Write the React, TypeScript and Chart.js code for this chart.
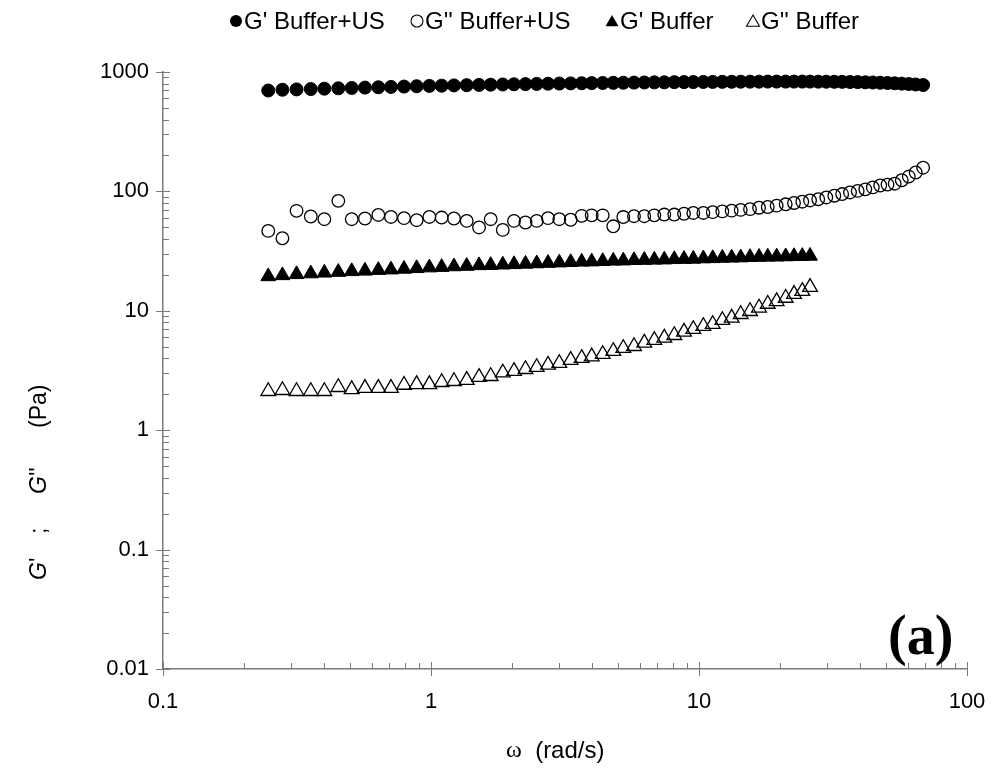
import React, { useEffect, useRef } from 'react';
import { Chart, registerables } from 'chart.js';

Chart.register(...registerables);

// ---------- data ----------
const omega = [
  0.247, 0.279, 0.315, 0.356, 0.4, 0.451, 0.506, 0.567, 0.636, 0.709,
  0.793, 0.884, 0.986, 1.096, 1.218, 1.359, 1.511, 1.67, 1.853, 2.04,
  2.252, 2.48, 2.733, 3.011, 3.321, 3.65, 3.978, 4.372, 4.788, 5.218,
  5.721, 6.251, 6.812, 7.421, 8.087, 8.79, 9.522, 10.38, 11.25, 12.22,
  13.24, 14.31, 15.5, 16.75, 18.05, 19.49, 21.06, 22.62, 24.29, 25.96,
  27.85, 29.85, 31.98, 34.21, 36.6, 39.09, 41.73, 44.51, 47.45, 50.51,
  53.72, 57.1, 60.64, 64.35, 68.6,
];

const gpBufferUS = [
  700, 710, 715, 720, 725, 730, 735, 740, 745, 750,
  755, 760, 765, 768, 772, 776, 780, 783, 786, 789,
  792, 795, 798, 800, 803, 805, 807, 809, 811, 813,
  815, 817, 819, 820, 822, 823, 824, 825, 826, 827,
  828, 829, 830, 830, 831, 831, 831, 831, 831, 831,
  830, 829, 828, 827, 825, 823, 820, 817, 813, 809,
  804, 799, 793, 786, 778,
];

const gppBufferUS = [
  46.7, 40.5, 68.7, 61.6, 58.5, 83.3, 58.5, 59.3, 63.5, 61.1,
  59.7, 57.4, 61.1, 60.4, 59.3, 56.6, 49.9, 58.5, 47.6, 56.6,
  54.9, 56.6, 59.7, 58.5, 57.9, 62.4, 63, 63, 51, 61,
  62, 62, 63, 64, 64, 65, 66, 66, 67, 68,
  69, 70, 71, 73, 74, 76, 78, 80, 82, 84,
  86, 89, 92, 95, 98, 101, 104, 108, 112, 114,
  116, 124, 133, 144, 158,
];

const gpBuffer = [
  19.4, 19.8, 20.2, 20.5, 20.8, 21.1, 21.4, 21.6, 21.9, 22.1,
  22.4, 22.7, 23.0, 23.2, 23.5, 23.7, 24.0, 24.1, 24.3, 24.5,
  24.7, 24.9, 25.1, 25.3, 25.5, 25.7, 25.8, 26.0, 26.2, 26.3,
  26.5, 26.6, 26.7, 26.8, 27.0, 27.1, 27.2, 27.4, 27.5, 27.7,
  27.8, 27.9, 28.1, 28.2, 28.3, 28.4, 28.5, 28.6, 28.7, 28.8,
];

const gppBuffer = [
  2.12, 2.16, 2.12, 2.12, 2.12, 2.29, 2.2, 2.25, 2.25, 2.25,
  2.39, 2.42, 2.42, 2.52, 2.57, 2.63, 2.78, 2.83, 3.03, 3.12,
  3.24, 3.37, 3.52, 3.64, 3.86, 4.01, 4.13, 4.33, 4.59, 4.86,
  5.05, 5.39, 5.67, 5.93, 6.24, 6.66, 7.01, 7.43, 7.72, 8.34,
  8.72, 9.36, 9.91, 10.6, 11.4, 12.0, 12.8, 13.8, 14.6, 15.8,
];

const seriesLabels = ["G' Buffer+US", "G'' Buffer+US", "G' Buffer", "G'' Buffer"];
const xMajorValues = [0.1, 1, 10, 100];
const xTickLabels = ['0.1', '1', '10', '100'];
const yMajorValues = [0.01, 0.1, 1, 10, 100, 1000];
const yTickLabels = ['0.01', '0.1', '1', '10', '100', '1000'];

// ---------- styling ----------
const SANS = '"Liberation Sans", Arial, sans-serif';
const SERIF = '"Liberation Serif", "Times New Roman", serif';
const AXIS_COLOR = '#7a7a7a';

const W = 992;
const H = 778;

function majorIndex(list: number[], v: number) {
  return list.findIndex((m) => Math.abs(m - v) / m < 1e-6);
}

function logTickList(min: number, max: number) {
  const out: { value: number }[] = [];
  const e0 = Math.round(Math.log10(min));
  const e1 = Math.round(Math.log10(max));
  for (let e = e0; e < e1; e++) {
    for (let m = 1; m < 10; m++) out.push({ value: m * Math.pow(10, e) });
  }
  out.push({ value: max });
  return out;
}

function drawMarker(ctx: CanvasRenderingContext2D, style: string, filled: boolean, x: number, y: number, r: number) {
  ctx.beginPath();
  if (style === 'circle') {
    ctx.arc(x, y, r, 0, Math.PI * 2);
  } else {
    ctx.moveTo(x, y - r);
    ctx.lineTo(x + r * 0.866, y + r * 0.5);
    ctx.lineTo(x - r * 0.866, y + r * 0.5);
    ctx.closePath();
  }
  if (filled) {
    ctx.fillStyle = '#000';
    ctx.fill();
  } else {
    ctx.lineWidth = 1.1;
    ctx.strokeStyle = '#000';
    ctx.stroke();
  }
}

const decorPlugin = {
  id: 'decor',
  afterDraw(chart: any) {
    const { ctx, chartArea, scales } = chart;
    const xs = scales.x;
    const ys = scales.y;
    ctx.save();
    // tick marks
    ctx.strokeStyle = AXIS_COLOR;
    ctx.lineWidth = 1;
    xs.ticks.forEach((t: any) => {
      const px = Math.round(xs.getPixelForValue(t.value)) + 0.5;
      const major = majorIndex(xMajorValues, t.value) >= 0;
      ctx.beginPath();
      ctx.moveTo(px, chartArea.bottom - (major ? 7 : 6));
      ctx.lineTo(px, chartArea.bottom + (major ? 7 : 0));
      ctx.stroke();
    });
    ys.ticks.forEach((t: any) => {
      const py = Math.round(ys.getPixelForValue(t.value)) + 0.5;
      const major = majorIndex(yMajorValues, t.value) >= 0;
      ctx.beginPath();
      ctx.moveTo(chartArea.left - (major ? 7 : 0), py);
      ctx.lineTo(chartArea.left + (major ? 7 : 6), py);
      ctx.stroke();
    });

    // legend
    const legendX = [236, 417, 612, 753];
    const legendY = 21;
    ctx.font = `24px ${SANS}`;
    ctx.textBaseline = 'middle';
    ctx.textAlign = 'left';
    chart.data.datasets.forEach((ds: any, i: number) => {
      const isCircle = ds.pointStyle === 'circle';
      const filled = ds.pointBackgroundColor !== 'rgba(0,0,0,0)';
      drawMarker(ctx, ds.pointStyle, filled, legendX[i], legendY + (isCircle ? 0 : 1.5), isCircle ? 6 : 7.5);
      ctx.fillStyle = '#000';
      ctx.fillText(ds.label, legendX[i] + 8, legendY + 1);
    });

    // y title (rotated, with italic G); positions along the rotated baseline
    ctx.save();
    ctx.translate(40, 0);
    ctx.rotate(-Math.PI / 2);
    ctx.textBaseline = 'middle';
    ctx.textAlign = 'left';
    ctx.fillStyle = '#000';
    const drawRun = (runs: [string, boolean][], startY: number) => {
      let cx = -startY;
      runs.forEach(([txt, it]) => {
        ctx.font = `${it ? 'italic ' : ''}23px ${SANS}`;
        ctx.fillText(txt, cx, 0);
        cx += ctx.measureText(txt).width;
      });
    };
    drawRun([['G', true], ["'", false]], 580);
    drawRun([[';', false]], 534);
    drawRun([['G', true], ["''", false]], 494);
    drawRun([['(Pa)', false]], 428);
    ctx.restore();

    // x title
    ctx.textBaseline = 'middle';
    ctx.textAlign = 'left';
    ctx.fillStyle = '#000';
    ctx.font = `24px ${SERIF}`;
    const om = '\u03C9';
    const x0 = 506;
    ctx.fillText(om, x0, 751);
    const omW = ctx.measureText(om).width;
    ctx.font = `24px ${SANS}`;
    ctx.fillText('  (rad/s)', x0 + omW, 751);

    // panel tag
    ctx.font = `bold 56px ${SERIF}`;
    ctx.textBaseline = 'alphabetic';
    ctx.fillText('(a)', 888, 654);

    ctx.restore();
  },
};

export default function App() {
  const canvasRef = useRef<HTMLCanvasElement | null>(null);

  useEffect(() => {
    document.body.style.margin = '0';
    const canvas = canvasRef.current;
    if (!canvas) return;

    const mk = (ys: number[]) => ys.map((y, i) => ({ x: omega[i], y }));

    const chart = new Chart(canvas, {
      type: 'scatter',
      data: {
        datasets: [
          {
            label: seriesLabels[0],
            data: mk(gpBufferUS),
            pointStyle: 'circle',
            pointRadius: 6.5,
            pointBackgroundColor: '#000',
            pointBorderColor: '#000',
            pointBorderWidth: 1,
          },
          {
            label: seriesLabels[1],
            data: mk(gppBufferUS),
            pointStyle: 'circle',
            pointRadius: 6.3,
            pointBackgroundColor: 'rgba(0,0,0,0)',
            pointBorderColor: '#000',
            pointBorderWidth: 1.3,
          },
          {
            label: seriesLabels[2],
            data: mk(gpBuffer),
            pointStyle: 'triangle',
            pointRadius: 8.5,
            pointBackgroundColor: '#000',
            pointBorderColor: '#000',
            pointBorderWidth: 1,
          },
          {
            label: seriesLabels[3],
            data: mk(gppBuffer),
            pointStyle: 'triangle',
            pointRadius: 8.5,
            pointBackgroundColor: 'rgba(0,0,0,0)',
            pointBorderColor: '#000',
            pointBorderWidth: 1.3,
          },
        ],
      },
      options: {
        responsive: false,
        animation: false,
        devicePixelRatio: 1,
        layout: { padding: { top: 72, right: 25, bottom: 0, left: 0 } },
        plugins: {
          legend: { display: false },
          tooltip: { enabled: false },
          title: { display: false },
        },
        scales: {
          x: {
            type: 'logarithmic',
            min: 0.1,
            max: 100,
            grid: { display: false, drawTicks: false },
            border: { display: true, color: AXIS_COLOR, width: 1.5 },
            afterBuildTicks: (scale: any) => {
              scale.ticks = logTickList(0.1, 100);
            },
            afterFit: (scale: any) => {
              scale.height = 109;
              scale.paddingLeft = 0;
              scale.paddingRight = 0;
            },
            ticks: {
              autoSkip: false,
              maxRotation: 0,
              padding: 20,
              color: '#000',
              font: { family: SANS, size: 22 },
              callback: (v: any) => {
                const i = majorIndex(xMajorValues, Number(v));
                return i >= 0 ? xTickLabels[i] : '';
              },
            },
          },
          y: {
            type: 'logarithmic',
            min: 0.01,
            max: 1000,
            grid: { display: false, drawTicks: false },
            border: { display: true, color: AXIS_COLOR, width: 1.5 },
            afterBuildTicks: (scale: any) => {
              scale.ticks = logTickList(0.01, 1000);
            },
            afterFit: (scale: any) => {
              scale.width = 163;
              scale.paddingTop = 0;
              scale.paddingBottom = 0;
            },
            ticks: {
              autoSkip: false,
              padding: 14,
              color: '#000',
              font: { family: SANS, size: 22 },
              callback: (v: any) => {
                const i = majorIndex(yMajorValues, Number(v));
                return i >= 0 ? yTickLabels[i] : '';
              },
            },
          },
        },
      },
      plugins: [decorPlugin],
    } as any);

    return () => {
      chart.destroy();
    };
  }, []);

  return (
    <div style={{ width: W, height: H, background: '#fff' }}>
      <canvas ref={canvasRef} width={W} height={H} style={{ display: 'block' }} />
    </div>
  );
}
